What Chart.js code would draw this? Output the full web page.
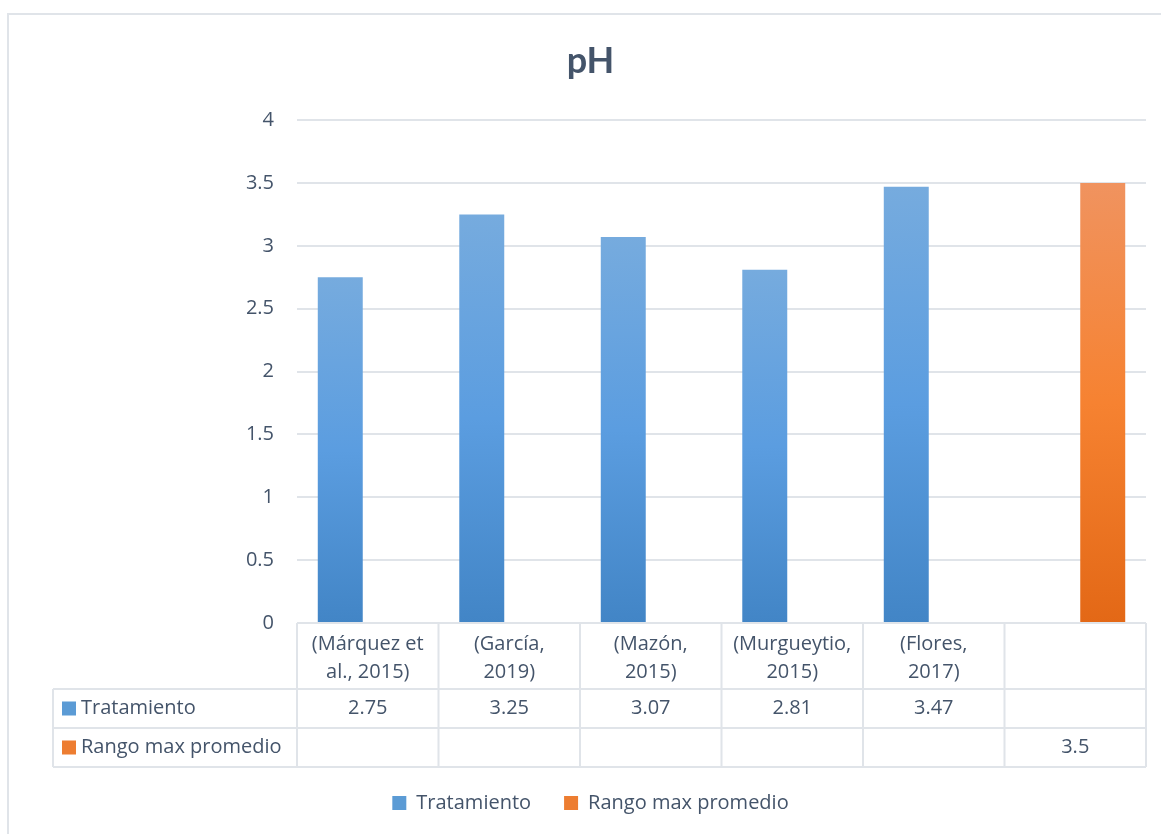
<!DOCTYPE html>
<html>
<head>
<meta charset="utf-8">
<script src="https://cdn.jsdelivr.net/npm/chart.js@4/dist/chart.umd.min.js"></script>
<style>
  html, body { margin: 0; padding: 0; overflow: hidden; background: #fff; }
  canvas { display: block; }
</style>
</head>
<body>
<canvas id="c" width="1181" height="834"></canvas>
<script>
// Categories (multi-line labels) and series values
const categories = [
  ["(Márquez et", "al., 2015)"],
  ["(García,", "2019)"],
  ["(Mazón,", "2015)"],
  ["(Murgueytio,", "2015)"],
  ["(Flores,", "2017)"],
  ""
];
const tratamiento = [2.75, 3.25, 3.07, 2.81, 3.47, null];
const rangoMax    = [null, null, null, null, null, 3.5];
const seriesNames = ["Tratamiento", "Rango max promedio"];
const yMin = 0, yMax = 4, yStep = 0.5;

const TEXT = '#44546a';
const LINE = '#e0e4e9';
const FONT = '"Open Sans", "Noto Sans", sans-serif';
const TITLE_FONT = 'Lato, "Open Sans", sans-serif';
const palettes = [
  ['#76abde', '#5b9de0', '#4285c6'],
  ['#f0935f', '#f68231', '#e36816']
];
const solid = ['#5b9bd5', '#ed7d31'];

// Vertical gradient spanning each bar from its value down to zero
function barFill(i) {
  return ctx => {
    const chart = ctx.chart;
    if (!chart.chartArea || ctx.type !== 'data' || ctx.raw == null) return solid[i];
    const y = chart.scales.y;
    const top = y.getPixelForValue(ctx.raw), bot = y.getPixelForValue(0);
    const g = chart.ctx.createLinearGradient(0, top, 0, bot);
    const p = palettes[i];
    g.addColorStop(0, p[0]); g.addColorStop(0.5, p[1]); g.addColorStop(1, p[2]);
    return g;
  };
}

// Page background and outer chart frame
const framePlugin = {
  id: 'frame',
  beforeDraw(chart) {
    const c = chart.ctx;
    c.save();
    c.fillStyle = '#fff';
    c.fillRect(0, 0, chart.width, chart.height);
    c.strokeStyle = LINE;
    c.lineWidth = 2;
    c.strokeRect(8, 14, chart.width + 40, chart.height + 40);
    c.restore();
  }
};

// Data table under the plot: category row plus one row per series
const tablePlugin = {
  id: 'dataTable',
  afterDraw(chart) {
    const c = chart.ctx, a = chart.chartArea, xs = chart.scales.x;
    const n = categories.length, w = (a.right - a.left) / n;
    const y0 = a.bottom, y1 = y0 + 66, y2 = y1 + 39, y3 = y2 + 39, left = 53;
    c.save();
    c.strokeStyle = LINE;
    c.lineWidth = 2;
    c.beginPath();
    c.moveTo(a.left, y0); c.lineTo(a.right, y0);
    [y1, y2, y3].forEach(yy => { c.moveTo(left, yy); c.lineTo(a.right, yy); });
    c.moveTo(left, y1); c.lineTo(left, y3);
    for (let i = 0; i <= n; i++) {
      const xx = a.left + i * w;
      c.moveTo(xx, y0); c.lineTo(xx, y3);
    }
    c.stroke();

    c.fillStyle = TEXT;
    c.font = '20px ' + FONT;
    c.textAlign = 'center';
    c.textBaseline = 'middle';
    categories.forEach((lab, i) => {
      const cx = xs.getPixelForValue(i);
      const lines = Array.isArray(lab) ? lab : [lab];
      lines.forEach((t, k) => c.fillText(t, cx, y0 + 21 + k * 28));
    });

    const rows = [[y1, y2], [y2, y3]];
    chart.data.datasets.forEach((ds, di) => {
      const cy = (rows[di][0] + rows[di][1]) / 2;
      ds.data.forEach((v, i) => {
        if (v == null) return;
        c.fillText(String(v), xs.getPixelForValue(i), cy);
      });
      c.fillStyle = solid[di];
      c.fillRect(62, cy - 7, 14, 14);
      c.fillStyle = TEXT;
      c.textAlign = 'left';
      c.fillText(ds.label, 81, cy);
      c.textAlign = 'center';
    });
    c.restore();
  }
};

new Chart(document.getElementById('c'), {
  type: 'bar',
  data: {
    labels: categories,
    datasets: [
      { label: seriesNames[0], data: tratamiento, backgroundColor: barFill(0),
        categoryPercentage: 0.777, barPercentage: 0.818 },
      { label: seriesNames[1], data: rangoMax, backgroundColor: barFill(1),
        categoryPercentage: 0.777, barPercentage: 0.818 }
    ]
  },
  options: {
    responsive: false,
    animation: false,
    devicePixelRatio: 1,
    layout: { padding: { left: 0, right: 0, top: 0, bottom: 11 } },
    plugins: {
      title: {
        display: true,
        text: 'pH',
        color: TEXT,
        font: { family: TITLE_FONT, size: 36, weight: 'bold' },
        padding: { top: 40, bottom: 37 }
      },
      legend: {
        position: 'bottom',
        labels: {
          boxWidth: 14,
          boxHeight: 14,
          padding: 33,
          color: TEXT,
          font: { family: FONT, size: 20 },
          generateLabels(chart) {
            return chart.data.datasets.map((ds, i) => ({
              text: ds.label, fillStyle: solid[i], strokeStyle: solid[i],
              lineWidth: 0, datasetIndex: i, hidden: false, fontColor: TEXT
            }));
          }
        }
      },
      tooltip: { enabled: false }
    },
    scales: {
      x: {
        grid: { display: false },
        border: { display: false },
        ticks: { display: false },
        afterFit(s) { s.height = 137; }
      },
      y: {
        min: yMin, max: yMax,
        ticks: {
          stepSize: yStep, padding: 23, color: TEXT,
          font: { family: FONT, size: 20 },
          callback: v => String(v)
        },
        grid: { color: LINE, lineWidth: 2, drawTicks: false },
        border: { display: false },
        afterFit(s) { s.width = 297; }
      },
      // empty right-hand margin axis
      yRight: {
        position: 'right',
        min: yMin, max: yMax,
        grid: { display: false },
        border: { display: false },
        ticks: { display: false },
        afterFit(s) { s.width = 35; }
      }
    }
  },
  plugins: [framePlugin, tablePlugin]
});
</script>
</body>
</html>
